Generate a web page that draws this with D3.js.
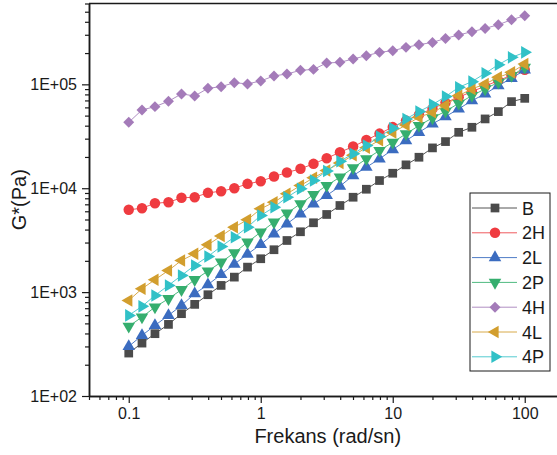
<!DOCTYPE html>
<html>
<head>
<meta charset="utf-8">
<script src="https://cdn.jsdelivr.net/npm/d3@7"></script>
<style>
  html, body { margin: 0; padding: 0; background: #fff; }
  svg { display: block; font-family: "Liberation Sans", Arial, sans-serif; }
</style>
</head>
<body>
<svg id="chart" width="557" height="455"></svg>
<script>
// ---------- data ----------
const freq = [0.1, 0.126, 0.158, 0.2, 0.251, 0.316, 0.398, 0.501, 0.631, 0.794,
              1, 1.26, 1.58, 2, 2.51, 3.16, 3.98, 5.01, 6.31, 7.94,
              10, 12.6, 15.8, 20, 25.1, 31.6, 39.8, 50.1, 63.1, 79.4, 100];

const seriesNames = ["B", "2H", "2L", "2P", "4H", "4L", "4P"];

const valB  = [259, 323, 398, 489, 620, 762, 944, 1160, 1394, 1740,
               2095, 2558, 3140, 3810, 4650, 5590, 6820, 8190, 9780, 11860,
               13940, 16790, 19870, 24450, 28120, 34530, 38610, 46470, 54650, 68200, 73300];
const val2H = [6200, 6420, 7170, 7330, 8090, 8190, 9030, 9360, 10000, 11020,
               11670, 12960, 14160, 15380, 17170, 19420, 22200, 25180, 29080, 33570,
               38760, 44780, 51150, 58370, 66680, 75320, 85060, 96090, 108600, 122500, 138400];
const val2L = [300, 383, 478, 597, 745, 966, 1178, 1480, 1860, 2320,
               2875, 3643, 4545, 5675, 7080, 8510, 10450, 13250, 15920, 19170,
               23550, 28750, 34530, 41620, 48900, 57980, 69700, 80900, 97200, 114200, 137500];
const val2P = [468, 575, 717, 864, 1055, 1316, 1592, 1942, 2390, 3025,
               3776, 4710, 5750, 7080, 8700, 10620, 12760, 15700, 19170, 23040,
               27690, 33360, 40080, 47530, 55000, 65650, 77850, 90300, 104500, 121300, 145600];
const val4H = [43100, 56700, 61000, 68700, 80900, 77300, 91500, 95000, 103800, 100900,
               107900, 120500, 125900, 136400, 139300, 160600, 162800, 175400, 188800, 203100,
               210900, 226900, 240900, 253300, 276800, 298600, 321300, 345400, 374800, 418800, 457700];
const val4L = [832, 1078, 1316, 1617, 2017, 2340, 2850, 3470, 4220, 4970,
               6340, 7330, 8830, 10620, 12590, 14790, 17500, 20720, 24500, 29000,
               34330, 40600, 48160, 53800, 62400, 77850, 90300, 100900, 116700, 130400, 157000];
const val4P = [597, 729, 929, 1160, 1448, 1806, 2204, 2750, 3380, 4220,
               5465, 6565, 8190, 9870, 11860, 14630, 18190, 21420, 25740, 31420,
               37760, 46470, 54650, 63800, 76200, 93500, 106200, 127600, 154600, 181800, 203100];

const yTickValues = [1e2, 1e3, 1e4, 1e5];
const yTickLabels = ["1E+02", "1E+03", "1E+04", "1E+05"];
const xTickValues = [0.1, 1, 10, 100];
const xTickLabels = ["0.1", "1", "10", "100"];

const xTitle = "Frekans (rad/sn)";
const yTitle = "G*(Pa)";

// ---------- styles ----------
const colors = ["#4b4b4b", "#ef3b40", "#3b6cc0", "#35ae6e", "#a47bb9", "#d29e2e", "#31c1c7"];
const lineColors = ["#555555", "#ef5a5e", "#4f7cc6", "#4fba80", "#b08fc3", "#d8aa4a", "#55cbd0"];
const symbols = [
  {type: d3.symbolSquare, size: 76, rot: 0},
  {type: d3.symbolCircle, size: 86, rot: 0},
  {type: d3.symbolTriangle, size: 68, rot: 0},
  {type: d3.symbolTriangle, size: 68, rot: 180},
  {type: d3.symbolSquare, size: 60, rot: 45},
  {type: d3.symbolTriangle, size: 68, rot: -90},
  {type: d3.symbolTriangle, size: 68, rot: 90}
];
const allValues = [valB, val2H, val2L, val2P, val4H, val4L, val4P];

// ---------- layout ----------
const plotL = 89, plotB = 396, plotT = 3.5;
const decadeX = 132;
const xMin = 0.05, xMax = 200;
const yMin = 100, yMax = 6e5;

const x = d3.scaleLog().domain([xMin, xMax])
  .range([plotL, plotL + decadeX * Math.log10(xMax / xMin)]);
const y = d3.scaleLog().domain([yMin, yMax]).range([plotB, plotT]);
const plotR = x(xMax);

const svg = d3.select("#chart");

function minorTicks(lo, hi) {
  const out = [];
  for (let e = Math.floor(Math.log10(lo)); e <= Math.ceil(Math.log10(hi)); e++) {
    for (let m = 2; m <= 9; m++) {
      const v = m * Math.pow(10, e);
      if (v >= lo * 0.999 && v <= hi * 1.001) out.push(v);
    }
  }
  return out;
}

const axisColor = "#1a1a1a";

// frame (top and right)
svg.append("line").attr("x1", plotL).attr("x2", plotR).attr("y1", plotT).attr("y2", plotT)
  .attr("stroke", axisColor).attr("stroke-width", 1.5);
svg.append("line").attr("x1", plotR).attr("x2", plotR).attr("y1", plotT).attr("y2", plotB)
  .attr("stroke", axisColor).attr("stroke-width", 1.5);

// x axis
const xAxisG = svg.append("g").attr("transform", `translate(0,${plotB})`);
xAxisG.call(d3.axisBottom(x).tickValues(xTickValues)
  .tickFormat((d, i) => xTickLabels[i]).tickSizeInner(7).tickSizeOuter(0).tickPadding(5));
xAxisG.append("g").call(d3.axisBottom(x).tickValues(minorTicks(xMin, xMax))
  .tickFormat("").tickSizeInner(4).tickSizeOuter(0));
xAxisG.selectAll(".domain").attr("stroke", axisColor).attr("stroke-width", 1.5);
xAxisG.selectAll(".tick line").attr("stroke", axisColor).attr("stroke-width", 1.2);
xAxisG.selectAll(".tick text").attr("fill", "#1a1a1a").style("font-size", "16px")
  .style("font-family", "'Liberation Sans', Arial, sans-serif");

// y axis
const yAxisG = svg.append("g").attr("transform", `translate(${plotL},0)`);
yAxisG.call(d3.axisLeft(y).tickValues(yTickValues)
  .tickFormat((d, i) => yTickLabels[i]).tickSizeInner(7).tickSizeOuter(0).tickPadding(5));
yAxisG.append("g").call(d3.axisLeft(y).tickValues(minorTicks(yMin, yMax))
  .tickFormat("").tickSizeInner(4).tickSizeOuter(0));
yAxisG.selectAll(".domain").attr("stroke", axisColor).attr("stroke-width", 1.5);
yAxisG.selectAll(".tick line").attr("stroke", axisColor).attr("stroke-width", 1.2);
yAxisG.selectAll(".tick text").attr("fill", "#1a1a1a").style("font-size", "16px")
  .style("font-family", "'Liberation Sans', Arial, sans-serif");

// titles
svg.append("text").attr("x", (x(0.1) + x(100)) / 2 + 1).attr("y", 443)
  .attr("text-anchor", "middle").style("font-size", "20px").attr("fill", "#1a1a1a")
  .text(xTitle);
svg.append("text").attr("transform", `translate(26,${(plotT + plotB) / 2}) rotate(-90)`)
  .attr("text-anchor", "middle").style("font-size", "20px").attr("fill", "#1a1a1a")
  .text(yTitle);

// series
const line = d3.line().x(d => x(d[0])).y(d => y(d[1]));
seriesNames.forEach((name, si) => {
  const pts = freq.map((f, i) => [f, allValues[si][i]]);
  const g = svg.append("g");
  g.append("path").datum(pts).attr("d", line).attr("fill", "none")
    .attr("stroke", lineColors[si]).attr("stroke-width", 1);
  const sym = d3.symbol().type(symbols[si].type).size(symbols[si].size);
  g.selectAll("path.m").data(pts).enter().append("path").attr("class", "m")
    .attr("d", sym)
    .attr("transform", d => `translate(${x(d[0])},${y(d[1])}) rotate(${symbols[si].rot})`)
    .attr("fill", colors[si]);
});

// legend
const legX = 470, legY = 193, legW = 80, legH = 178;
const lg = svg.append("g");
lg.append("rect").attr("x", legX).attr("y", legY).attr("width", legW).attr("height", legH)
  .attr("fill", "#fff").attr("stroke", "#1a1a1a").attr("stroke-width", 1);
seriesNames.forEach((name, si) => {
  const cy = legY + 15 + si * 24.8;
  lg.append("line").attr("x1", legX + 2).attr("x2", legX + 47).attr("y1", cy).attr("y2", cy)
    .attr("stroke", lineColors[si]).attr("stroke-width", 1);
  lg.append("path").attr("d", d3.symbol().type(symbols[si].type).size(symbols[si].size))
    .attr("transform", `translate(${legX + 25},${cy}) rotate(${symbols[si].rot})`)
    .attr("fill", colors[si]);
  lg.append("text").attr("x", legX + 52).attr("y", cy + 6.5)
    .style("font-size", "18px").attr("fill", "#1a1a1a").text(name);
});
</script>
</body>
</html>
